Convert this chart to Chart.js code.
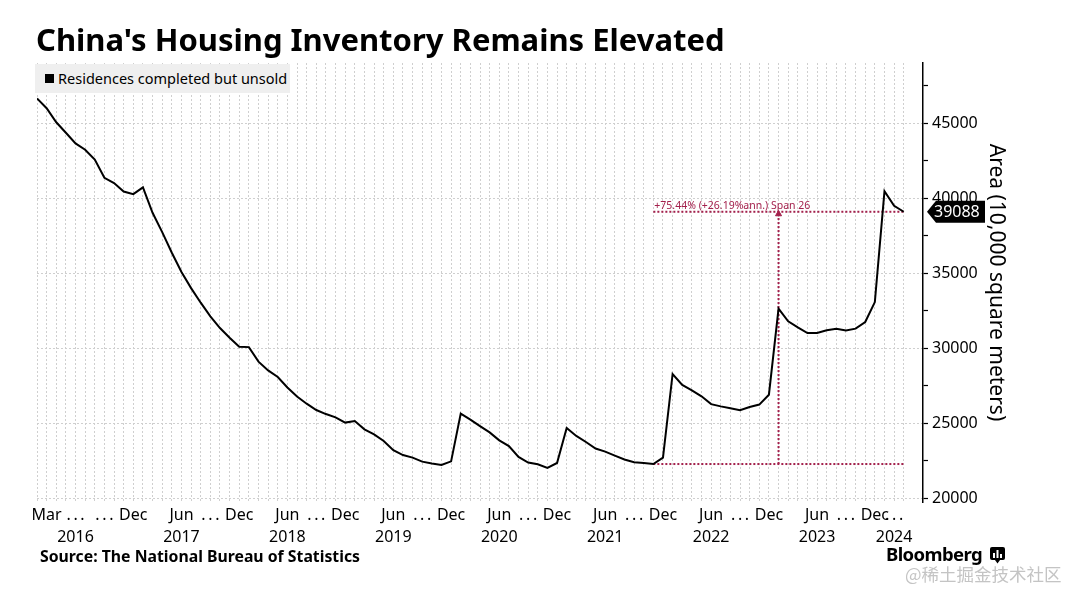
<!DOCTYPE html>
<html>
<head>
<meta charset="utf-8">
<script src="https://cdn.jsdelivr.net/npm/chart.js@4"></script>
<style>
  html, body { margin: 0; padding: 0; background: #fff; }
  #wrap { position: relative; width: 1069px; height: 589px; background: #fff; overflow: hidden; }
  #c { position: absolute; left: 0; top: 0; }
  #title { position: absolute; left: 36px; top: 18px; font-family: "Noto Sans", sans-serif; font-weight: 700; font-size: 31px; color: #000; white-space: nowrap; }
  #legend { position: absolute; left: 35px; top: 64px; width: 255px; height: 29px; background: #efefef; font-family: "Noto Sans", sans-serif; font-size: 14.5px; color: #000; white-space: nowrap; }
  #legend .sw { position: absolute; left: 10px; top: 10px; width: 9px; height: 9px; background: #000; }
  #legend .tx { position: absolute; left: 23px; top: 4px; }
  #source { position: absolute; left: 40px; top: 545px; font-family: "Noto Sans", sans-serif; font-weight: 700; font-size: 15.8px; color: #000; white-space: nowrap; }
  #brand { position: absolute; left: 886px; top: 541px; font-family: "Noto Sans", sans-serif; font-weight: 700; font-size: 18.5px; color: #000; white-space: nowrap; letter-spacing: -0.6px; }
  #brand svg { position: absolute; left: 104px; top: 6px; }
  #wm { position: absolute; left: 905px; top: 561px; font-family: "Noto Sans CJK SC", sans-serif; font-size: 17.5px; color: #c4c4c4; white-space: nowrap; }
</style>
</head>
<body>
<div id="wrap">
  <canvas id="c" width="1069" height="589"></canvas>
  <div id="title">China's Housing Inventory Remains Elevated</div>
  <div id="legend"><div class="sw"></div><div class="tx">Residences completed but unsold</div></div>
  <div id="source">Source: The National Bureau of Statistics</div>
  <div id="brand">Bloomberg<svg width="15" height="17" viewBox="0 0 15 17"><rect x="0" y="0" width="15" height="13" rx="2" fill="#000"/><polygon points="5,13 10,13 7.5,16.5" fill="#000"/><rect x="3" y="6" width="2" height="5" fill="#fff"/><rect x="6.5" y="3" width="2" height="8" fill="#fff"/><rect x="10" y="7" width="2" height="4" fill="#fff"/></svg></div>
  <div id="wm">@稀土掘金技术社区</div>
</div>
<script>
// ---- data ----
const years = [2016, 2017, 2018, 2019, 2020, 2021, 2022, 2023, 2024];
const monthNames = ['Feb','Mar','Apr','May','Jun','Jul','Aug','Sep','Oct','Nov','Dec'];
// Residences completed but unsold (10,000 sq m), Feb 2016 .. Apr 2024 (Jan-Feb combined)
const unsoldArea = [
  46640, 45990, 45050, 44350, 43640, 43220, 42570, 41350, 41000, 40440, 40260, // 2016
  40710, 39020, 37730, 36360, 35070, 34000, 33030, 32120, 31340, 30700, 30100, // 2017
  30070, 29100, 28520, 28080, 27380, 26780, 26300, 25880, 25610, 25390, 25040, // 2018
  25140, 24590, 24260, 23820, 23200, 22880, 22710, 22440, 22310, 22220, 22460, // 2019
  25640, 25240, 24810, 24390, 23860, 23480, 22750, 22380, 22260, 22020, 22350, // 2020
  24680, 24150, 23750, 23310, 23110, 22840, 22580, 22400, 22350, 22280, 22710, // 2021
  28280, 27550, 27190, 26790, 26270, 26120, 25990, 25860, 26080, 26240, 26900, // 2022
  32630, 31790, 31380, 31010, 31010, 31190, 31300, 31170, 31300, 31740, 33070, // 2023
  40460, 39480, 39088                                                          // 2024
];
const yMajorTicks = [20000, 25000, 30000, 35000, 40000, 45000];
const yMinorTicks = [22500, 27500, 32500, 37500, 42500, 47500];
const ELL = '.\u2009.\u2009.';
const xTickCats  = ['Mar 2016','Jun 2016','Sep 2016','Dec 2016',
                    'Jun 2017','Sep 2017','Dec 2017',
                    'Jun 2018','Sep 2018','Dec 2018',
                    'Jun 2019','Sep 2019','Dec 2019',
                    'Jun 2020','Sep 2020','Dec 2020',
                    'Jun 2021','Sep 2021','Dec 2021',
                    'Jun 2022','Sep 2022','Dec 2022',
                    'Jun 2023','Sep 2023','Dec 2023',
                    'Mar 2024'];
const xTickLabels = [['Mar'],[ELL,'2016'],[ELL],['Dec'],
                     ['Jun','2017'],[ELL],['Dec'],
                     ['Jun','2018'],[ELL],['Dec'],
                     ['Jun','2019'],[ELL],['Dec'],
                     ['Jun','2020'],[ELL],['Dec'],
                     ['Jun','2021'],[ELL],['Dec'],
                     ['Jun','2022'],[ELL],['Dec'],
                     ['Jun','2023'],[ELL],['Dec'],
                     [ELL,'2024']];
const spanStartCat = 'Nov 2021';
const spanEndCat = 'Apr 2024';
const spanText = '+75.44% (+26.19%ann.) Span 26';
const seriesName = 'Residences completed but unsold';
const yTitle = 'Area (10,000 square meters)';

// ---- build ----
const categories = [];
years.forEach(y => monthNames.forEach(m => categories.push(m + ' ' + y)));
categories.length = unsoldArea.length;
const idxOf = c => categories.indexOf(c);
const s0 = idxOf(spanStartCat), s1 = idxOf(spanEndCat);
const vStart = unsoldArea[s0], vEnd = unsoldArea[s1];
const sMid = (s0 + s1) / 2;
const lastIdx = unsoldArea.length - 1;
const tickMap = {};
xTickCats.forEach((c, i) => { tickMap[idxOf(c)] = xTickLabels[i]; });

const RED = '#a3204c';
const FONT = '"Noto Sans", sans-serif';

const overlay = {
  id: 'overlay',
  afterDatasetsDraw(chart) {
    const ctx = chart.ctx, xs = chart.scales.x, ys = chart.scales.y;
    ctx.save();
    ctx.fillStyle = RED;
    ctx.font = '10.5px ' + FONT;
    ctx.textBaseline = 'alphabetic';
    ctx.textAlign = 'left';
    ctx.fillText(spanText, xs.getPixelForValue(s0) + 1, ys.getPixelForValue(vEnd) - 3);
    ctx.restore();
  },
  afterDraw(chart) {
    const ctx = chart.ctx, ys = chart.scales.y, ca = chart.chartArea;
    const y = ys.getPixelForValue(unsoldArea[lastIdx]);
    const x0 = ca.right + 4;
    ctx.save();
    ctx.fillStyle = '#000';
    ctx.beginPath();
    ctx.moveTo(x0, y);
    ctx.lineTo(x0 + 9, y - 11);
    ctx.lineTo(x0 + 58, y - 11);
    ctx.lineTo(x0 + 58, y + 11);
    ctx.lineTo(x0 + 9, y + 11);
    ctx.closePath();
    ctx.fill();
    ctx.fillStyle = '#fff';
    ctx.font = '16px ' + FONT;
    ctx.textBaseline = 'middle';
    ctx.textAlign = 'left';
    ctx.fillText(String(unsoldArea[lastIdx]), x0 + 7, y + 1);
    ctx.restore();
  }
};

new Chart(document.getElementById('c'), {
  type: 'line',
  data: {
    datasets: [
      {
        label: seriesName,
        data: unsoldArea.map((v, i) => ({ x: i, y: v })),
        borderColor: '#000', borderWidth: 2, pointRadius: 0, tension: 0, order: 0
      },
      {
        label: 'span-low',
        data: [{ x: s0, y: vStart }, { x: s1, y: vStart }],
        borderColor: RED, borderWidth: 2, borderDash: [2, 2], pointRadius: 0, order: 1
      },
      {
        label: 'span-high',
        data: [{ x: s0, y: vEnd }, { x: s1, y: vEnd }],
        borderColor: RED, borderWidth: 2, borderDash: [2, 2], pointRadius: 0, order: 1
      },
      {
        label: 'span-arrow',
        data: [{ x: sMid, y: vStart }, { x: sMid, y: vEnd - 150 }],
        borderColor: RED, borderWidth: 2, borderDash: [2, 2],
        pointRadius: [0, 3.5], pointStyle: 'triangle', pointBackgroundColor: RED, pointBorderColor: RED, pointBorderWidth: 1,
        order: 1
      }
    ]
  },
  options: {
    responsive: false,
    animation: false,
    events: [],
    layout: { padding: { left: 37, top: 63, right: 0, bottom: 0 } },
    plugins: { legend: { display: false }, tooltip: { enabled: false } },
    scales: {
      x: {
        type: 'linear',
        min: 0, max: 92,
        afterBuildTicks: s => { s.ticks = categories.map((c, i) => ({ value: i })); },
        afterFit: s => { s.height = 87; },
        grid: { color: '#cfcfcf', lineWidth: 1, drawTicks: false },
        border: { display: false, dash: [2, 2] },
        ticks: {
          autoSkip: false, maxRotation: 0, minRotation: 0, padding: 3,
          color: '#000', font: { family: FONT, size: 16, lineHeight: 1.35 },
          callback: v => tickMap[v] || ''
        }
      },
      y: {
        type: 'linear',
        position: 'right',
        min: 19750, max: 49000,
        afterBuildTicks: s => {
          s.ticks = yMajorTicks.concat(yMinorTicks).sort((a, b) => a - b).map(v => ({ value: v }));
        },
        afterFit: s => { s.width = 146; },
        grid: {
          color: c => (c.tick && yMajorTicks.includes(c.tick.value)) ? '#cfcfcf' : 'rgba(0,0,0,0)',
          lineWidth: 1, drawTicks: true, tickLength: 5, tickColor: '#000', tickWidth: 1.2
        },
        border: { display: true, color: '#000', width: 1.5, dash: [2, 2] },
        ticks: {
          padding: 4, color: '#000', font: { family: FONT, size: 16 },
          callback: v => yMajorTicks.includes(v) ? String(v) : ''
        },
        title: {
          display: true, text: yTitle, color: '#000',
          font: { family: FONT, size: 21 }, padding: { top: 60, bottom: 0 }
        }
      }
    }
  },
  plugins: [overlay]
});
</script>
</body>
</html>
